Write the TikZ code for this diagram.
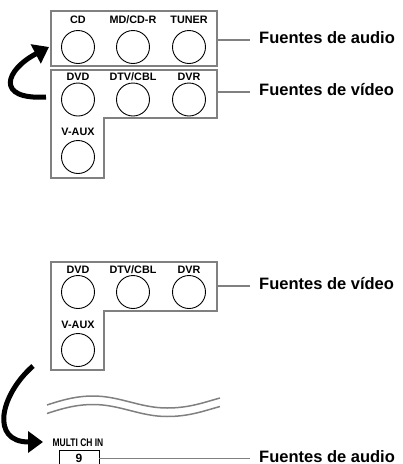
\documentclass[tikz,border=0pt]{standalone}
\usepackage{fontspec}
\setmainfont{Liberation Sans}
\usepackage{xcolor}
\usetikzlibrary{arrows.meta,positioning}

\begin{document}
\begin{tikzpicture}[x=1pt, y=-1pt,
    jack/.style={draw, line width=0.9pt, circle, minimum size=33pt, inner sep=0pt},
    tag/.style={font=\bfseries\fontsize{10.8}{12}\selectfont, inner sep=0pt, anchor=base},
    panel/.style={draw=gray, line width=2pt},
    lead/.style={draw=gray, line width=1.4pt, shorten >=9pt},
    src/.style={font=\bfseries\fontsize{16.5}{19}\selectfont, inner sep=0pt, anchor=base west},
    swing/.style={line width=5pt, -{Triangle[length=15pt,width=21pt]}},
    wave/.style={draw=gray, line width=1.5pt}]
    \useasboundingbox (0,0) rectangle (403,464);

    % upper selector: audio row
    \draw[panel] (51,11) rectangle (217,66);
    \node[jack] (cd) at (78,47) {};
    \node[jack] (mdcdr) at (133,47) {};
    \node[jack] (tuner) at (189,47) {};
    \node[tag] at (78,23.5) {CD};
    \node[tag] at (133,23.5) {MD/CD-R};
    \node[tag] at (189,23.5) {TUNER};

    % upper selector: video block
    \draw[panel] (51,70) -- (217,70) -- (217,118) -- (104,118) -- (104,178) -- (51,178) -- cycle;
    \node[jack] (dvd) at (78,99.5) {};
    \node[jack] (dtv) at (133,99.5) {};
    \node[jack] (dvr) at (189,99.5) {};
    \node[jack] (vaux) at (78,157) {};
    \node[tag] at (78,80.5) {DVD};
    \node[tag] at (133,80.5) {DTV/CBL};
    \node[tag] at (189,80.5) {DVR};
    \node[tag] at (78,135) {V-AUX};

    \coordinate (a1) at (217,40);
    \coordinate (v1) at (217,92);
    \node[src] (audio1) at (259,43) {Fuentes de audio};
    \node[src] (video1) at (259,95) {Fuentes de vídeo};
    \draw[lead] (a1) -- (a1 -| audio1.west);
    \draw[lead] (v1) -- (v1 -| video1.west);

    \coordinate (up0) at (46,97);
    \coordinate (up1) at (49,47);
    \draw[swing] (up0) .. controls (-5,100) and (5,70) .. (up1);

    % lower selector: video block
    \draw[panel] (51,262) -- (217,262) -- (217,311) -- (104,311) -- (104,370) -- (51,370) -- cycle;
    \node[jack] (dvdb) at (78,292) {};
    \node[jack] (dtvb) at (133,292) {};
    \node[jack] (dvrb) at (189,292) {};
    \node[jack] (vauxb) at (78,350) {};
    \node[tag] at (78,273) {DVD};
    \node[tag] at (133,273) {DTV/CBL};
    \node[tag] at (189,273) {DVR};
    \node[tag] at (78,328) {V-AUX};

    \coordinate (v2) at (217,286);
    \node[src] (video2) at (259,289) {Fuentes de vídeo};
    \draw[lead] (v2) -- (v2 -| video2.west);

    % break marks
    \foreach \dy in {0,8.5}{
      \begin{scope}[shift={(0,\dy)}]
        \draw[wave] (47,405) .. controls (65,399) and (78,396) .. (93,396)
          .. controls (120,396) and (140,408) .. (167,408)
          .. controls (190,408) and (205,402) .. (220,398);
      \end{scope}
    }

    % multichannel input
    \node[draw, line width=0.8pt, minimum width=40pt, minimum height=17pt, inner sep=0pt,
      font=\bfseries\fontsize{12}{13}\selectfont] (nine) at (79,458.5) {9};
    \node[font=\bfseries\fontsize{11}{12}\selectfont, inner sep=0pt] (multi) at (78,443)
      {\scalebox{0.77}[1]{MULTI CH IN}};
    \node[src] (audio2) at (259,462) {Fuentes de audio};
    \draw[lead] (nine.east) -- (nine.east -| audio2.west);

    \coordinate (dn0) at (33,366);
    \coordinate (dn1) at (43,442);
    \draw[swing] (dn0) .. controls (0,395) and (-10,442) .. (dn1);
\end{tikzpicture}
\end{document}
